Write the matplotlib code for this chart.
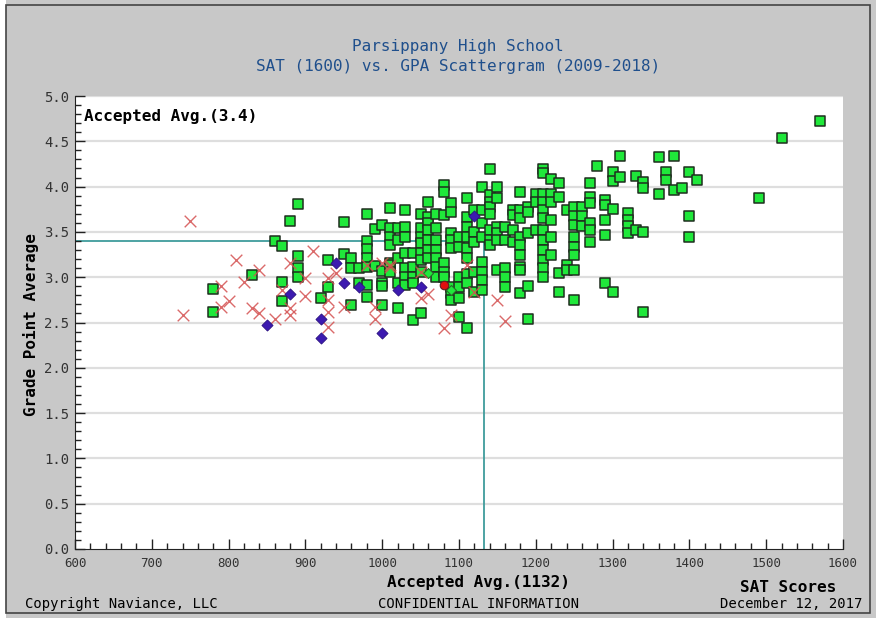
import numpy as np
import matplotlib
matplotlib.use("Agg")
import matplotlib.pyplot as plt
from matplotlib.patches import Rectangle
from matplotlib.ticker import MultipleLocator

# accepted (green squares)
acc_sat = [
    780, 780, 830, 860, 870, 870, 870, 880, 890, 890, 890, 890, 920, 930, 930,
    950, 950, 960, 960, 960, 970, 970, 980, 980, 980, 980, 980, 980, 980,
    990, 990, 1000, 1000, 1000, 1000, 1000, 1010, 1010,
    1010, 1010, 1010, 1010, 1010,
    1020, 1020, 1020, 1020, 1020,
    1030, 1030, 1030, 1030, 1030, 1030, 1030,
    1040, 1040, 1040, 1040, 1040,
    1050, 1050, 1050, 1050, 1050, 1050, 1050, 1050,
    1060, 1060, 1060, 1060, 1060, 1060, 1060,
    1070, 1070, 1070, 1070, 1070, 1070, 1070,
    1080, 1080, 1080, 1080, 1080, 1080,
    1090, 1090, 1090, 1090, 1090, 1090, 1090, 1090,
    1100, 1100, 1100, 1100, 1100, 1100,
    1110, 1110, 1110, 1110, 1110, 1110, 1110, 1110, 1110,
    1120, 1120, 1120, 1120, 1120,
    1130, 1130, 1130, 1130, 1130, 1130, 1130, 1130,
    1140, 1140, 1140, 1140, 1140, 1140, 1140, 1140,
    1150, 1150, 1150, 1150, 1150, 1150,
    1160, 1160, 1160, 1160, 1160,
    1170, 1170, 1170, 1170,
    1180, 1180, 1180, 1180, 1180, 1180, 1180, 1180, 1180,
    1190, 1190, 1190, 1190, 1190,
    1200, 1200, 1200,
    1210, 1210, 1210, 1210, 1210, 1210, 1210, 1210, 1210, 1210, 1210, 1210,
    1220, 1220, 1220, 1220, 1220, 1220,
    1230, 1230, 1230, 1230,
    1240, 1240, 1240,
    1250, 1250, 1250, 1250, 1250, 1250, 1250, 1250,
    1260, 1260, 1260,
    1270, 1270, 1270, 1270, 1270, 1270,
    1280,
    1290, 1290, 1290, 1290, 1290,
    1300, 1300, 1300, 1300,
    1310, 1310,
    1320, 1320, 1320, 1320,
    1330, 1330,
    1340, 1340, 1340, 1340,
    1360, 1360, 1370, 1370, 1380, 1380, 1390,
    1400, 1400, 1400, 1410,
    1490, 1520, 1570,
]
acc_gpa = [
    2.87, 2.62, 3.02, 3.40, 3.34, 2.95, 2.74, 3.62, 3.81, 3.23, 3.10, 3.00, 2.77, 3.19, 2.89,
    3.61, 3.26, 3.21, 3.10, 2.69, 3.10, 2.94, 3.70, 3.40, 3.31, 3.21, 3.11, 2.91, 2.78,
    3.53, 3.12, 3.58, 3.07, 2.94, 2.90, 2.69, 3.76, 3.16,
    3.54, 3.44, 3.36, 3.13, 3.06,
    3.54, 3.41, 3.21, 2.94, 2.66,
    3.74, 3.55, 3.44, 3.27, 3.10, 3.00, 2.91,
    3.27, 3.11, 3.00, 2.94, 2.53,
    3.70, 3.54, 3.44, 3.38, 3.27, 3.19, 3.06, 2.60,
    3.83, 3.66, 3.60, 3.52, 3.41, 3.30, 3.21,
    3.70, 3.54, 3.41, 3.30, 3.21, 3.11, 3.00,
    4.02, 3.94, 3.69, 3.16, 3.06, 3.00,
    3.82, 3.72, 3.49, 3.41, 3.32, 2.89, 2.83, 2.75,
    3.44, 3.33, 3.00, 2.89, 2.77, 2.56,
    3.87, 3.66, 3.55, 3.44, 3.32, 3.21, 3.04, 2.94, 2.44,
    3.74, 3.50, 3.39, 3.06, 2.84,
    4.00, 3.74, 3.60, 3.44, 3.17, 3.06, 2.97, 2.86,
    4.19, 3.91, 3.83, 3.77, 3.70, 3.52, 3.41, 3.36,
    4.00, 3.87, 3.55, 3.49, 3.41, 3.08,
    3.55, 3.41, 3.10, 3.00, 2.89,
    3.74, 3.69, 3.52, 3.39,
    3.94, 3.74, 3.65, 3.44, 3.36, 3.25, 3.11, 3.08, 2.83,
    3.78, 3.72, 3.49, 2.90, 2.54,
    3.92, 3.83, 3.52,
    4.19, 4.15, 3.92, 3.83, 3.74, 3.65, 3.52, 3.41, 3.30, 3.19, 3.10, 3.00,
    4.08, 3.92, 3.83, 3.63, 3.44, 3.25,
    4.04, 3.88, 3.05, 2.84,
    3.74, 3.13, 3.08,
    3.78, 3.67, 3.58, 3.44, 3.33, 3.25, 3.08, 2.75,
    3.78, 3.67, 3.56,
    4.04, 3.89, 3.82, 3.60, 3.52, 3.39,
    4.23,
    3.85, 3.80, 3.63, 3.47, 2.94,
    4.16, 4.06, 3.75, 2.84,
    4.34, 4.11,
    3.71, 3.63, 3.56, 3.49,
    4.12, 3.52,
    4.05, 3.99, 3.50, 2.62,
    4.33, 3.92, 4.16, 4.07, 4.34, 3.96, 3.98,
    4.16, 3.68, 3.44, 4.07,
    3.87, 4.54, 4.72,
]

# denied (red x)
den_sat = [750, 740, 790, 800, 790, 810, 820, 840, 830, 840, 860, 870, 880, 880, 880,
           900, 900, 910, 930, 940, 930, 930, 930, 950, 990, 990, 1000, 1010, 1050,
           1060, 1090, 1080, 1150, 1160, 1010, 1050, 1110, 1120, 980]
den_gpa = [3.62, 2.58, 2.90, 2.74, 2.67, 3.19, 2.95, 3.08, 2.66, 2.60, 2.54, 2.86, 3.16, 2.66, 2.58,
           2.99, 2.79, 3.29, 2.99, 3.05, 2.75, 2.62, 2.45, 2.67, 2.67, 2.54, 3.16, 3.11, 2.77,
           2.81, 2.58, 2.44, 2.75, 2.52, 3.13, 3.06, 3.13, 2.84, 3.13]

# waitlisted (blue diamonds)
wl_sat = [850, 880, 920, 920, 940, 950, 970, 1000, 1020, 1050, 1120]
wl_gpa = [2.47, 2.81, 2.54, 2.33, 3.16, 2.94, 2.89, 2.38, 2.86, 2.89, 3.68]

# other small markers
red_dot_sat = [1080]
red_dot_gpa = [2.91]
green_dia_sat = [1060, 1090]
green_dia_gpa = [3.05, 2.86]

avg_sat = 1132
avg_gpa = 3.4

x_ticks = [600, 700, 800, 900, 1000, 1100, 1200, 1300, 1400, 1500, 1600]
y_ticks = [0.0, 0.5, 1.0, 1.5, 2.0, 2.5, 3.0, 3.5, 4.0, 4.5, 5.0]

MONO = "DejaVu Sans Mono"
W, H = 876, 618


def make_chart(save_path="out.png"):
    fig = plt.figure(figsize=(W / 100, H / 100), dpi=100, facecolor="#c8c8c8")

    # outer frame
    fig.patches.append(Rectangle((0, 0), 6 / W, 1, transform=fig.transFigure,
                                 facecolor="white", edgecolor="none", zorder=0))
    fig.patches.append(Rectangle((6 / W, 5 / H), 864 / W, 608 / H, transform=fig.transFigure,
                                 facecolor="none", edgecolor="#444444", lw=1.2, zorder=1))

    ax = fig.add_axes([75 / W, 1 - 549 / H, 768 / W, 453 / H])
    ax.set_facecolor("white")
    ax.set_xlim(600, 1600)
    ax.set_ylim(0, 5)

    for s in ["top", "right"]:
        ax.spines[s].set_visible(False)
    ax.spines["left"].set_color("#222222")
    ax.spines["bottom"].set_color("#222222")

    for yv in y_ticks[1:]:
        ax.axhline(yv, color="#dedede", lw=1.6, zorder=0)

    ax.plot([600, avg_sat], [avg_gpa, avg_gpa], color="#3f9c9c", lw=1.3, zorder=1)
    ax.plot([avg_sat, avg_sat], [0, avg_gpa], color="#3f9c9c", lw=1.3, zorder=1)

    ax.scatter(acc_sat, acc_gpa, marker="s", s=62, facecolor="#1fe83a",
               edgecolor="#1e2e1e", linewidth=1.1, zorder=3)
    ax.scatter(green_dia_sat, green_dia_gpa, marker="D", s=26, facecolor="#1fe83a",
               edgecolor="#2a6a2a", linewidth=0.8, zorder=4)
    ax.scatter(den_sat, den_gpa, marker="x", s=70, color="#d45050",
               linewidth=1.0, alpha=0.85, zorder=4)
    ax.scatter(wl_sat, wl_gpa, marker="D", s=32, facecolor="#3c1ab0",
               edgecolor="#2a1080", linewidth=0.6, zorder=5)
    ax.scatter(red_dot_sat, red_dot_gpa, marker="o", s=38, facecolor="#e01010",
               edgecolor="#602020", linewidth=0.8, zorder=5)

    ax.set_xticks(x_ticks)
    ax.set_xticklabels([str(v) for v in x_ticks], fontfamily=MONO, fontsize=9, color="#333333")
    ax.set_yticks(y_ticks)
    ax.set_yticklabels([f"{v:.1f}" for v in y_ticks], fontfamily=MONO, fontsize=10, color="#333333")
    ax.xaxis.set_minor_locator(MultipleLocator(20))
    ax.yaxis.set_minor_locator(MultipleLocator(0.1))
    ax.tick_params(axis="both", which="major", direction="in", length=7, width=1, color="#222222")
    ax.tick_params(axis="both", which="minor", direction="in", length=4, width=1, color="#222222")
    ax.tick_params(axis="x", pad=6)
    ax.tick_params(axis="y", pad=4)

    ax.text(0.012, 0.955, "Accepted Avg.(3.4)", transform=ax.transAxes, fontfamily=MONO,
            fontsize=11.5, fontweight="bold", ha="left", va="center", zorder=6)

    title_color = "#1f4f8c"
    fig.text(458 / W, 1 - 47 / H, "Parsippany High School", fontfamily=MONO, fontsize=11.5,
             color=title_color, ha="center", va="center")
    fig.text(458 / W, 1 - 66 / H, "SAT (1600) vs. GPA Scattergram (2009-2018)", fontfamily=MONO,
             fontsize=11.5, color=title_color, ha="center", va="center")

    fig.text(478 / W, 1 - 583 / H, "Accepted Avg.(1132)", fontfamily=MONO, fontsize=11.5,
             fontweight="bold", ha="center", va="center")
    fig.text(788 / W, 1 - 587 / H, "SAT Scores", fontfamily=MONO, fontsize=11.5,
             fontweight="bold", ha="center", va="center")
    fig.text(31 / W, 1 - 325 / H, "Grade Point Average", fontfamily=MONO, fontsize=11.5,
             fontweight="bold", rotation=90, ha="center", va="center")

    fig.text(25 / W, 1 - 604 / H, "Copyright Naviance, LLC", fontfamily=MONO, fontsize=10,
             ha="left", va="center")
    fig.text(478 / W, 1 - 604 / H, "CONFIDENTIAL INFORMATION", fontfamily=MONO, fontsize=10,
             ha="center", va="center")
    fig.text(862 / W, 1 - 604 / H, "December 12, 2017", fontfamily=MONO, fontsize=10,
             ha="right", va="center")

    fig.savefig(save_path, dpi=100, facecolor=fig.get_facecolor())
    plt.close(fig)


if __name__ == "__main__":
    make_chart("out.png")
